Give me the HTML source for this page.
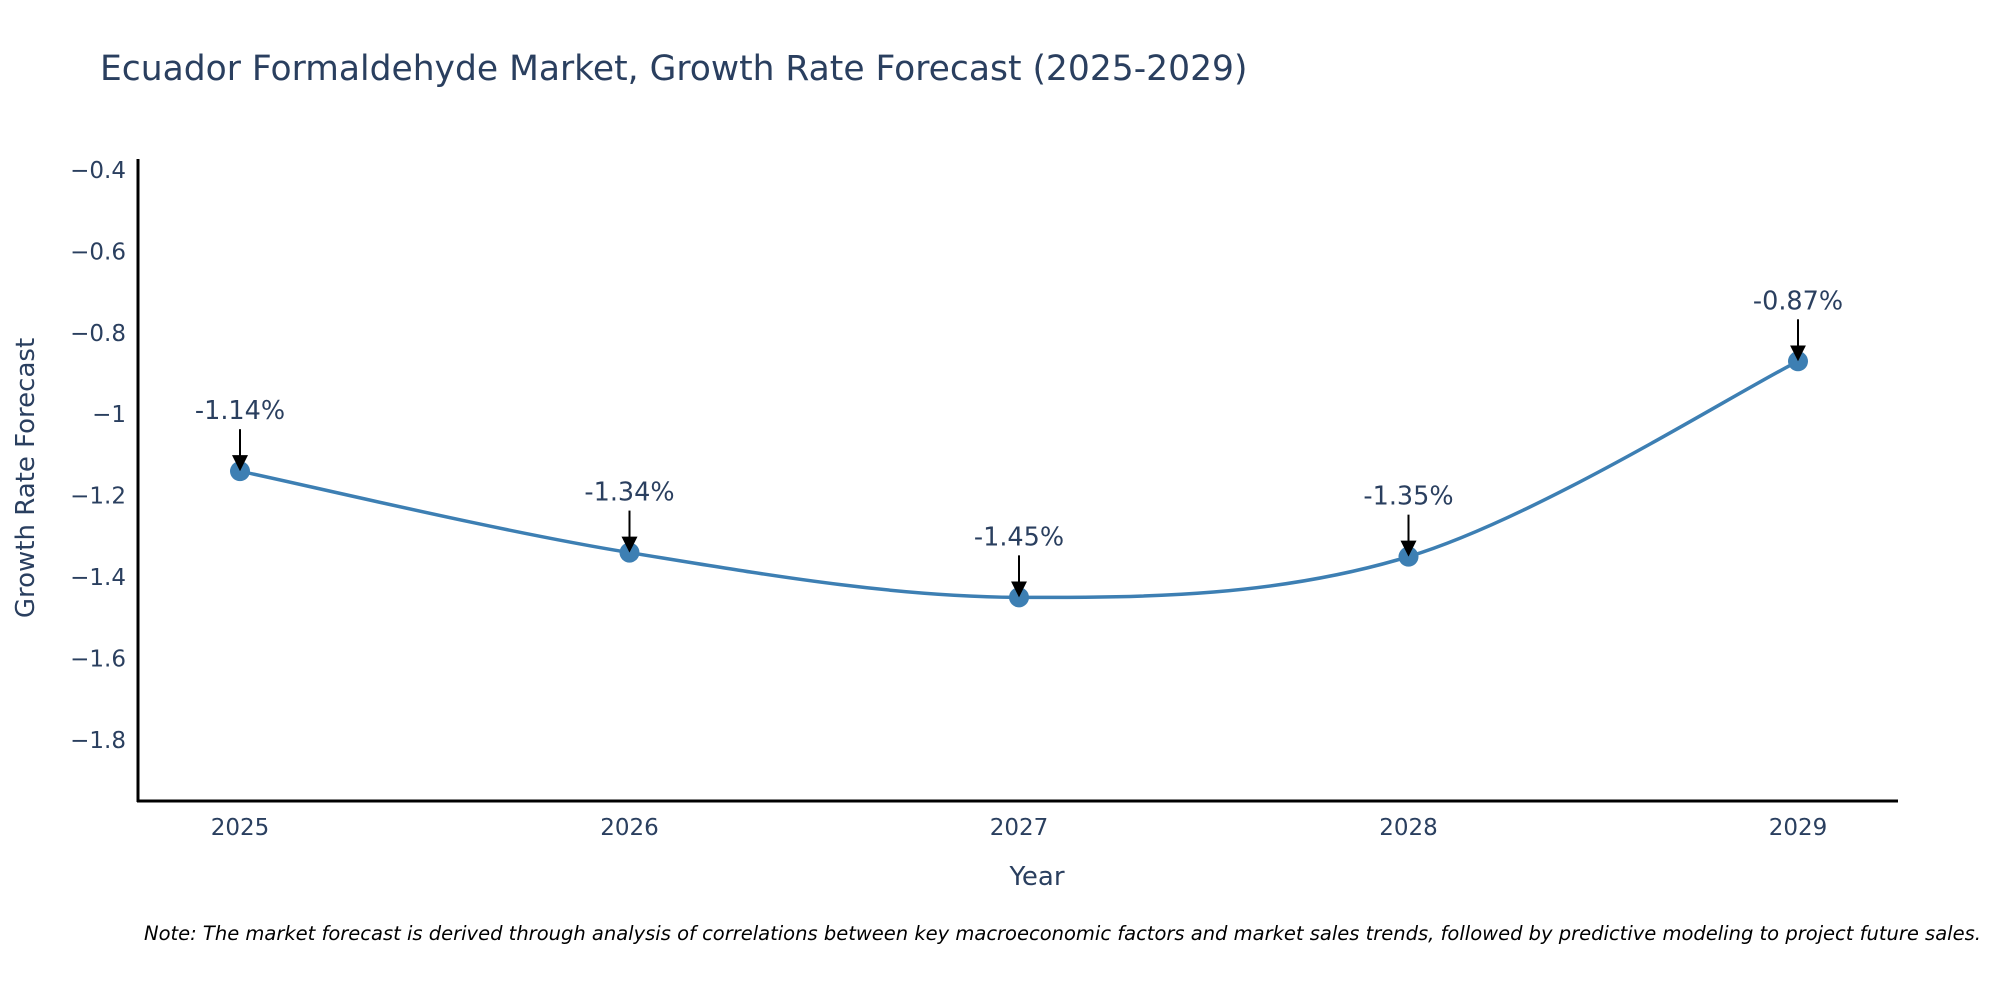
<!DOCTYPE html>
<html><head><meta charset="utf-8"><style>
html,body{margin:0;padding:0;background:#fff;}
svg{display:block;font-family:"DejaVu Sans","Liberation Sans",sans-serif;}
</style></head><body>
<svg id="chart" width="2000" height="1000" viewBox="0 0 2000 1000">
<defs><marker id="ah" markerWidth="16" markerHeight="16" refX="12" refY="8" orient="auto" markerUnits="userSpaceOnUse" viewBox="0 0 16 16"><path d="M0,0 L16,8 L0,16 z" fill="#000"/></marker></defs>
<text x="100" y="80" font-size="34.5" fill="#2a3f5f">Ecuador Formaldehyde Market, Growth Rate Forecast (2025-2029)</text>
<g id="yticks"></g><g id="xticks"></g>
<line x1="138" y1="159" x2="138" y2="802" stroke="#000" stroke-width="3"/>
<line x1="137" y1="801" x2="1898" y2="801" stroke="#000" stroke-width="3"/>
<path id="line" fill="none" stroke="#3d7fb3" stroke-width="3.5"/>
<g id="marks"></g>
<text x="1037" y="885" font-size="26" fill="#2a3f5f" text-anchor="middle">Year</text>
<text transform="translate(34,478) rotate(-90)" font-size="26" fill="#2a3f5f" text-anchor="middle">Growth Rate Forecast</text>
<text x="144" y="940" font-size="19.5" font-style="italic" fill="#000">Note: The market forecast is derived through analysis of correlations between key macroeconomic factors and market sales trends, followed by predictive modeling to project future sales.</text>
</svg>
<script>
const years = ["2025","2026","2027","2028","2029"];
const growth = [-1.14,-1.34,-1.45,-1.35,-0.87];
const labels = ["-1.14%","-1.34%","-1.45%","-1.35%","-0.87%"];
const yTicks = [-0.4,-0.6,-0.8,-1,-1.2,-1.4,-1.6,-1.8];
const yTickLabels = ["\u22120.4","\u22120.6","\u22120.8","\u22121","\u22121.2","\u22121.4","\u22121.6","\u22121.8"];

const NS="http://www.w3.org/2000/svg";
const xs=i=>240+i*389.5;
const ys=v=>170+(-0.4-v)/0.2*81.4;
function mk(t,a,p){const e=document.createElementNS(NS,t);for(const k in a)e.setAttribute(k,a[k]);p.appendChild(e);return e;}
const yt=document.getElementById('yticks');
yTicks.forEach((v,i)=>{const t=mk('text',{x:126,y:ys(v)+8,'font-size':23,fill:'#2a3f5f','text-anchor':'end'},yt);


t.textContent=yTickLabels[i];});
const xt=document.getElementById('xticks');
years.forEach((y,i)=>{const t=mk('text',{x:xs(i),y:835,'font-size':23,fill:'#2a3f5f','text-anchor':'middle'},xt);


t.textContent=y;});
const P=growth.map((v,i)=>[xs(i),ys(v)]);
let d=`M${P[0][0]},${P[0][1]}`;const s=1/6;
for(let i=0;i<P.length-1;i++){const p0=P[Math.max(i-1,0)],p1=P[i],p2=P[i+1],p3=P[Math.min(i+2,P.length-1)];
d+=` C${p1[0]+(p2[0]-p0[0])*s},${p1[1]+(p2[1]-p0[1])*s} ${p2[0]-(p3[0]-p1[0])*s},${p2[1]-(p3[1]-p1[1])*s} ${p2[0]},${p2[1]}`;}
document.getElementById('line').setAttribute('d',d);
const g=document.getElementById('marks');
P.forEach((p,i)=>{
const c=mk('circle',{cx:p[0],cy:p[1],r:10,fill:'#3d7fb3'},g);


const a=mk('line',{x1:p[0],y1:p[1]-42,x2:p[0],y2:p[1]-4,stroke:'#000','stroke-width':2,'marker-end':'url(#ah)'},g);


const t=mk('text',{x:p[0],y:p[1]-52,'font-size':25.5,fill:'#2a3f5f','text-anchor':'middle'},g);


t.textContent=labels[i];});
</script>
</body></html>
